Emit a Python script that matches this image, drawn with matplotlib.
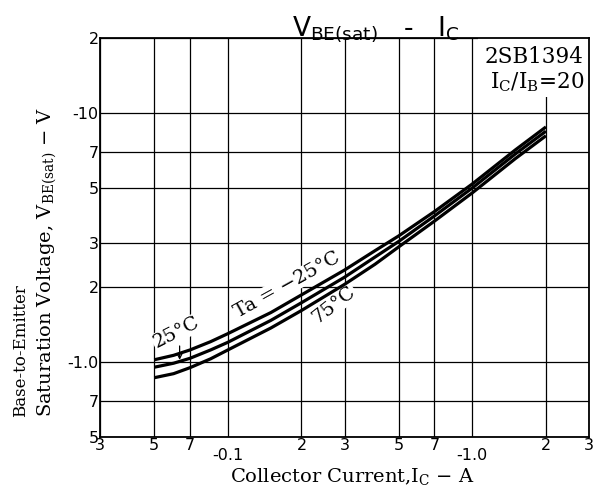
import matplotlib
matplotlib.use("Agg")
import matplotlib.pyplot as plt
from matplotlib.patches import Rectangle

plt.rcParams['mathtext.default'] = 'regular'

# ---- data ----
ic = [0.05, 0.06, 0.07, 0.085, 0.1, 0.15, 0.2, 0.3, 0.4, 0.5, 0.7, 1.0, 1.5, 2.0]  # |Ic| in A
vbe_m25 = [1.021, 1.064, 1.118, 1.207, 1.30, 1.58, 1.86, 2.34, 2.80, 3.21, 4.02, 5.19, 7.11, 8.79]  # Ta=-25C
vbe_25 = [0.953, 0.989, 1.035, 1.118, 1.20, 1.47, 1.73, 2.19, 2.64, 3.05, 3.86, 5.00, 6.85, 8.45]   # Ta=25C
vbe_75 = [0.865, 0.898, 0.949, 1.030, 1.118, 1.37, 1.61, 2.05, 2.47, 2.90, 3.68, 4.78, 6.56, 8.10]  # Ta=75C

xtick_vals = [0.03, 0.05, 0.07, 0.1, 0.2, 0.3, 0.5, 0.7, 1.0, 2.0, 3.0]
xtick_labels = ['3', '5', '7', '-0.1', '2', '3', '5', '7', '-1.0', '2', '3']
ytick_vals = [0.5, 0.7, 1.0, 2, 3, 5, 7, 10, 20]
ytick_labels = ['5', '7', '-1.0', '2', '3', '5', '7', '-10', '2']

fig = plt.figure(figsize=(5.95, 4.9), dpi=100)
ax = fig.add_axes([100/595, 1-437/490, 489/595, 399/490])
ax.set_xscale('log')
ax.set_yscale('log')
ax.set_xlim(0.03, 3)
ax.set_ylim(0.5, 20)

for v in (vbe_m25, vbe_25, vbe_75):
    ax.plot(ic, v, color='black', lw=2.3, zorder=3, solid_capstyle='butt',
            solid_joinstyle='round')

ax.set_xticks(xtick_vals)
ax.set_xticklabels(xtick_labels)
ax.set_yticks(ytick_vals)
ax.set_yticklabels(ytick_labels)
ax.minorticks_off()
ax.tick_params(which='both', length=0, labelsize=11.5, pad=1)
for t in ax.get_xticklabels() + ax.get_yticklabels():
    t.set_fontfamily('DejaVu Sans')
xt = ax.xaxis.get_major_ticks()
for i, lab in enumerate(xtick_labels):
    if lab.startswith('-'):
        xt[i].set_pad(8)

ax.grid(True, which='major', color='black', lw=0.9)
for s in ax.spines.values():
    s.set_linewidth(1.3)

# white box for part number
ax.add_patch(Rectangle((0.773, 0.852), 0.227, 0.148, transform=ax.transAxes,
                       facecolor='white', edgecolor='none', zorder=2))
fig.text(583/595, 1-63/490, '2SB1394', family='DejaVu Serif', fontsize=15.5,
         ha='right', va='baseline')
fig.text(584/595, 1-88/490, r'I$_{C}$/I$_{B}$=20', family='DejaVu Serif', fontsize=15.5,
         ha='right', va='baseline')

bb = dict(facecolor='white', edgecolor='none', pad=0.5)
ax.text(0.175, 2.04, 'Ta = \u221225\u00b0C', family='DejaVu Serif', fontsize=14,
        rotation=29, ha='center', va='center', bbox=bb, zorder=2)
ax.text(0.272, 1.70, '75\u00b0C', family='DejaVu Serif', fontsize=14,
        rotation=38, ha='center', va='center', bbox=bb, zorder=2)
ax.text(0.0615, 1.31, '25\u00b0C', family='DejaVu Serif', fontsize=14,
        rotation=27, ha='center', va='center', bbox=bb, zorder=2)
ax.annotate('', xy=(0.0635, 1.02), xytext=(0.0635, 1.16),
            arrowprops=dict(arrowstyle='->', color='black', lw=0.9,
                            mutation_scale=8, shrinkA=0, shrinkB=0), zorder=4)

fig.text(376/595, 1-35/490, r'V$_{BE(sat)}$   -   I$_{C}$', family='DejaVu Sans',
         fontsize=19, ha='center', va='baseline')
fig.text(352/595, 1-482/490, r'Collector Current,I$_{C}$ $-$ A', family='DejaVu Serif',
         fontsize=14, ha='center', va='baseline')
fig.text(21/595, 1-417/490, 'Base-to-Emitter',
         family='DejaVu Serif', fontsize=12, rotation=90, ha='center', va='bottom')
fig.text(47/595, 1-417/490, 'Saturation Voltage, V$_{BE(sat)}$ \u2212 V',
         family='DejaVu Serif', fontsize=14, rotation=90, ha='center', va='bottom')

fig.savefig('out.png', dpi=100)
